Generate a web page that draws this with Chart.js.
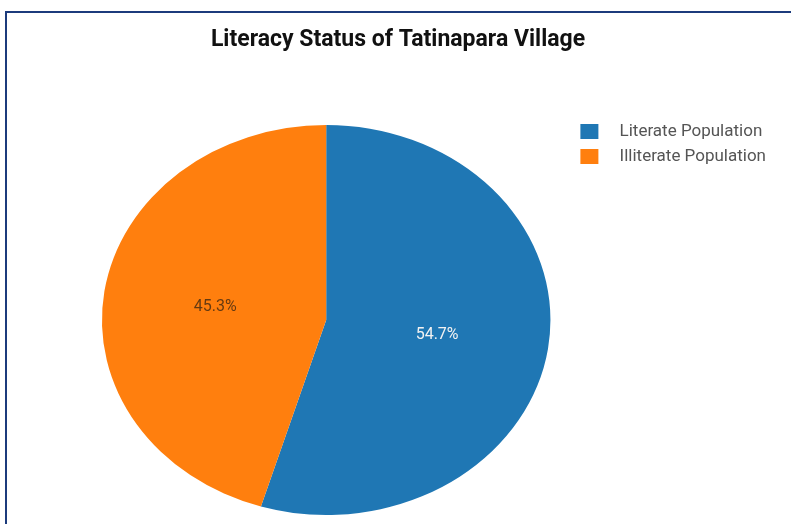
<!DOCTYPE html>
<html>
<head>
<meta charset="utf-8">
<script src="https://cdn.jsdelivr.net/npm/chart.js@4"></script>
<style>
    html, body { margin: 0; padding: 0; background: #fff; }
    #wrap { position: relative; width: 791px; height: 524px; overflow: hidden; }
    #frame { position: absolute; left: 5px; top: 11px; width: 900px; height: 700px;
             border-left: 2px solid #1c3b7c; border-top: 2px solid #1c3b7c; }
    #chart-js { position: absolute; left: 0; top: 0; }
</style>
</head>
<body>
<div id="wrap">
    <div id="frame"></div>
    <canvas id="chart-js" width="791" height="524"></canvas>
</div>
<script>
const titulo = 'Literacy Status of Tatinapara Village';
const categorias = ['Literate Population', 'Illiterate Population'];
const porcentajes = [54.7, 45.3];
const colores = ['#1f77b4', '#ff7f0e'];
const coloresTexto = ['#f2f2f2', 'rgba(40,30,20,0.72)'];

// the source picture is stretched sideways, so the pie is drawn as an ellipse
const estiramientoX = 1.15;

const elipse = {
    id: 'elipse',
    beforeDatasetsDraw(chart) {
        const arc = chart.getDatasetMeta(0).data[0];
        const ctx = chart.ctx;
        ctx.save();
        ctx.translate(arc.x, arc.y);
        ctx.scale(estiramientoX, 1);
        ctx.translate(-arc.x, -arc.y);
    },
    afterDatasetsDraw(chart) {
        const ctx = chart.ctx;
        ctx.restore();
        const meta = chart.getDatasetMeta(0);
        ctx.save();
        ctx.font = '16px Roboto';
        ctx.textAlign = 'center';
        ctx.textBaseline = 'middle';
        meta.data.forEach((arc, i) => {
            const p = arc.tooltipPosition();
            const x = arc.x + (p.x - arc.x) * estiramientoX;
            ctx.fillStyle = coloresTexto[i];
            ctx.fillText(porcentajes[i].toFixed(1) + '%', x, p.y + 1);
        });
        ctx.restore();
    }
};

// legend sits a bit above the pie, title is centred on the whole page
const ajustes = {
    id: 'ajustes',
    afterLayout(chart) {
        chart.legend.top -= 10;
        chart.legend.bottom -= 10;
        chart.titleBlock.left -= 30;
        chart.titleBlock.right -= 30;
    }
};

const config = {
    type: 'pie',
    data: {
        labels: categorias,
        datasets: [{
            data: porcentajes,
            backgroundColor: colores,
            borderWidth: 0
        }]
    },
    options: {
        responsive: false,
        animation: false,
        layout: { padding: { left: 80, right: 15, top: 0, bottom: 9 } },
        plugins: {
            title: {
                display: true,
                text: titulo,
                color: '#111',
                font: { family: 'Roboto', size: 23, weight: 'bold', lineHeight: 1.2 },
                padding: { top: 26, bottom: 71.4 }
            },
            legend: {
                position: 'right',
                align: 'start',
                fullSize: false,
                labels: {
                    color: '#555',
                    font: { family: 'Roboto', size: 17 },
                    boxWidth: 18,
                    boxHeight: 15,
                    padding: 8,
                    generateLabels(chart) {
                        const base = Chart.overrides.pie.plugins.legend.labels.generateLabels(chart);
                        return base.map(l => ({ ...l, text: '   ' + l.text }));
                    }
                }
            },
            tooltip: { enabled: false }
        }
    },
    plugins: [elipse, ajustes]
};

new Chart(document.getElementById('chart-js'), config);
</script>
</body>
</html>
